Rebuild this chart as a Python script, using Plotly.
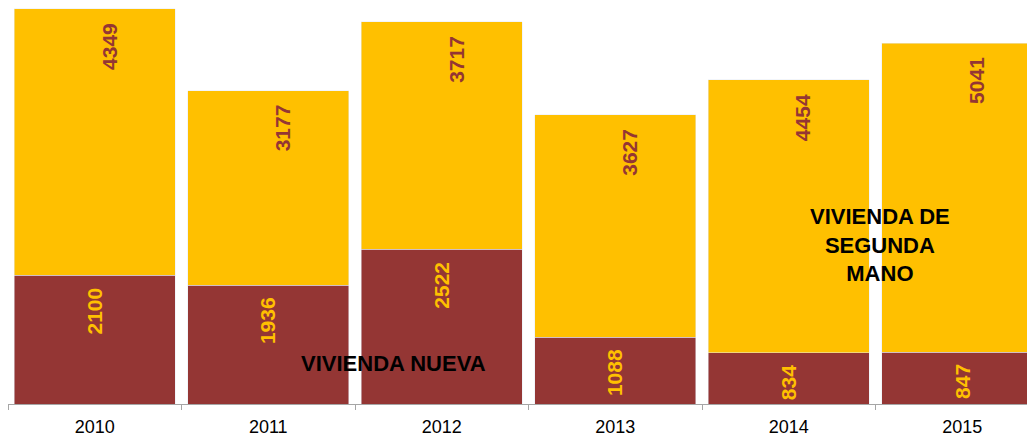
import plotly.graph_objects as go

years = ["2010", "2011", "2012", "2013", "2014", "2015"]
nueva = [2100, 1936, 2522, 1088, 834, 847]
segunda = [4349, 3177, 3717, 3627, 4454, 5041]

rojo = "#943634"
oro = "#FFC000"

fig = go.Figure()
fig.add_trace(go.Bar(x=years, y=nueva, marker_color=rojo, name="Vivienda nueva"))
fig.add_trace(go.Bar(x=years, y=segunda, marker_color=oro, name="Vivienda de segunda mano"))

# value labels, rotated, near the top of each segment
totals = [a + b for a, b in zip(nueva, segunda)]
for i, v in enumerate(nueva):
    fig.add_annotation(x=i, y=v, text=str(v), textangle=-90, showarrow=False,
                       yanchor="top", yshift=-10, xanchor="center",
                       font=dict(family="Liberation Sans", size=21, color=oro, weight="bold"))
for i, (v, top) in enumerate(zip(segunda, totals)):
    fig.add_annotation(x=i, y=top, text=str(v), textangle=-90, showarrow=False,
                       yanchor="top", yshift=-12, xanchor="center", xshift=14,
                       font=dict(family="Liberation Sans", size=21, color=rojo, weight="bold"))

fig.add_annotation(xref="paper", yref="paper", x=0.372, y=0.1035,
                   xanchor="center", yanchor="middle",
                   text="VIVIENDA NUEVA", showarrow=False,
                   font=dict(family="Liberation Sans", size=22, color="black", weight="bold"))
fig.add_annotation(xref="paper", yref="paper", x=0.8425, y=0.4015,
                   xanchor="center", yanchor="middle",
                   text="VIVIENDA DE<br>SEGUNDA<br>MANO", showarrow=False,
                   font=dict(family="Liberation Sans", size=22, color="black", weight="bold"))

fig.update_layout(
    barmode="stack",
    bargap=0.072,
    width=1035, height=431,
    margin=dict(l=0, r=0, t=0, b=35),
    plot_bgcolor="white", paper_bgcolor="white",
    showlegend=False,
    font=dict(family="Liberation Sans", size=18, color="black"),
)
fig.update_xaxes(type="category", range=[-0.5, 5.465], showline=True, linecolor="#A6A6A6",
                 linewidth=1, ticks="outside", tickson="boundaries", ticklen=5,
                 tickcolor="#A6A6A6", showgrid=False, ticklabelstandoff=6)
fig.update_yaxes(range=[0, 6460], visible=False, showgrid=False)

fig.write_html("out.html")
